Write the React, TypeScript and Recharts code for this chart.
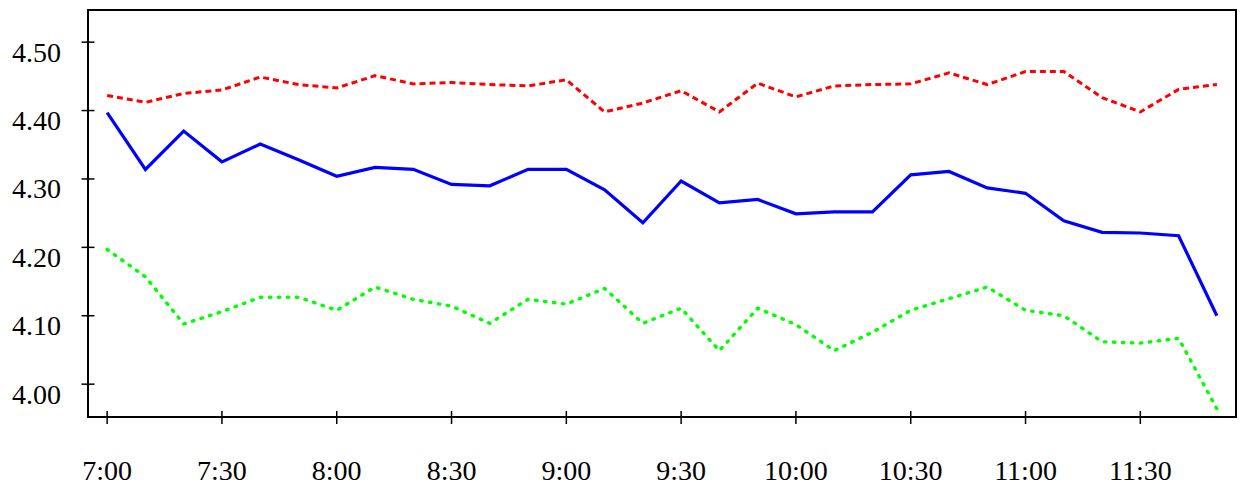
import React from "react";
import {
  LineChart,
  Line,
  XAxis,
  YAxis,
  ReferenceArea,
} from "recharts";

// minutes after 7:00, one point every 10 min
const minutes = [
  0, 10, 20, 30, 40, 50, 60, 70, 80, 90, 100, 110, 120, 130, 140, 150, 160, 170,
  180, 190, 200, 210, 220, 230, 240, 250, 260, 270, 280, 290,
];

const upper = [
  4.422, 4.412, 4.425, 4.43, 4.449, 4.438, 4.433, 4.451, 4.439, 4.441, 4.438,
  4.436, 4.445, 4.398, 4.411, 4.429, 4.398, 4.44, 4.42, 4.436, 4.438, 4.439,
  4.455, 4.438, 4.457, 4.457, 4.419, 4.398, 4.431, 4.438,
];

const mean = [
  4.397, 4.314, 4.37, 4.325, 4.351, 4.328, 4.304, 4.317, 4.314, 4.292, 4.29,
  4.314, 4.314, 4.284, 4.236, 4.297, 4.265, 4.27, 4.249, 4.252, 4.252, 4.306,
  4.311, 4.287, 4.279, 4.239, 4.222, 4.221, 4.217, 4.1,
];

const lower = [
  4.197, 4.157, 4.088, 4.106, 4.127, 4.127, 4.108, 4.142, 4.124, 4.114, 4.089,
  4.124, 4.117, 4.14, 4.089, 4.111, 4.049, 4.111, 4.087, 4.049, 4.076, 4.108,
  4.125, 4.142, 4.108, 4.1, 4.062, 4.06, 4.067, 3.964,
];

const xTicks = [0, 30, 60, 90, 120, 150, 180, 210, 240, 270];
const xTickLabels = ["7:00", "7:30", "8:00", "8:30", "9:00", "9:30", "10:00", "10:30", "11:00", "11:30"];
const yTicks = [4.0, 4.1, 4.2, 4.3, 4.4, 4.5];

const X_DOMAIN: [number, number] = [-5, 295];
const Y_DOMAIN: [number, number] = [3.952, 4.547];

const data = minutes.map((m, i) => ({
  m,
  upper: upper[i],
  mean: mean[i],
  lower: lower[i],
}));

const FONT = "'Liberation Serif', 'Times New Roman', serif";

function YTick(props: any) {
  const { x, y, payload } = props;
  return (
    <g>
      <line x1={x - 6.5} x2={x + 6.5} y1={y} y2={y} stroke="#000" strokeWidth={1.5} />
      <text
        x={x - 27}
        y={y + 19.5}
        textAnchor="end"
        fontFamily={FONT}
        fontSize={28}
        fill="#000"
      >
        {Number(payload.value).toFixed(2)}
      </text>
    </g>
  );
}

function XTick(props: any) {
  const { x, y, payload } = props;
  const idx = xTicks.indexOf(payload.value);
  return (
    <g>
      <line x1={x} x2={x} y1={y - 6} y2={y + 7} stroke="#000" strokeWidth={1.5} />
      <text
        x={x}
        y={y + 63}
        textAnchor="middle"
        fontFamily={FONT}
        fontSize={28}
        fill="#000"
      >
        {xTickLabels[idx]}
      </text>
    </g>
  );
}

export default function App() {
  return (
    <div style={{ position: "absolute", left: 0, top: 0, background: "#fff" }}>
      <LineChart
        width={1246}
        height={489}
        data={data}
        margin={{ top: 10, right: 10, left: 0, bottom: 0 }}
      >
        <XAxis
          dataKey="m"
          type="number"
          domain={X_DOMAIN}
          ticks={xTicks}
          interval={0}
          allowDataOverflow
          height={72}
          tickSize={0}
          tickMargin={0}
          tickLine={false}
          axisLine={{ stroke: "#000", strokeWidth: 2 }}
          tick={<XTick />}
        />
        <YAxis
          type="number"
          domain={Y_DOMAIN}
          ticks={yTicks}
          interval={0}
          allowDataOverflow
          width={88}
          tickSize={0}
          tickMargin={0}
          tickLine={false}
          axisLine={{ stroke: "#000", strokeWidth: 2 }}
          tick={<YTick />}
        />
        <ReferenceArea
          x1={X_DOMAIN[0]}
          x2={X_DOMAIN[1]}
          y1={Y_DOMAIN[0]}
          y2={Y_DOMAIN[1]}
          fill="none"
          fillOpacity={0}
          stroke="#000"
          strokeWidth={2}
          ifOverflow="visible"
        />
        <Line
          dataKey="upper"
          type="linear"
          stroke="#ff0000"
          strokeWidth={3}
          strokeDasharray="6 4"
          dot={false}
          activeDot={false}
          isAnimationActive={false}
        />
        <Line
          dataKey="mean"
          type="linear"
          stroke="#0000ff"
          strokeWidth={3.2}
          dot={false}
          activeDot={false}
          isAnimationActive={false}
        />
        <Line
          dataKey="lower"
          type="linear"
          stroke="#00ff00"
          strokeWidth={3.4}
          strokeDasharray="1.5 7.5"
          strokeLinecap="round"
          dot={false}
          activeDot={false}
          isAnimationActive={false}
        />
      </LineChart>
    </div>
  );
}
